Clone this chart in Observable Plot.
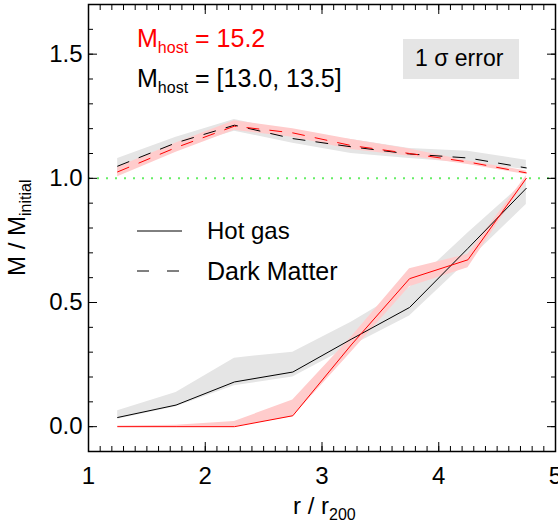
<!DOCTYPE html>
<html><head><meta charset="utf-8">
<script src="https://cdn.jsdelivr.net/npm/d3@7"></script>
<script src="https://cdn.jsdelivr.net/npm/@observablehq/plot@0.6"></script>
<style>
body{margin:0;background:#fff}
#chart svg{display:block}
</style>
</head><body><div id="chart"></div>
<script>
// Radial bins, r / r200
const radius = [1.25, 1.75, 2.25, 2.75, 3.25, 3.75, 4.25, 4.75];

// Mhost = [13.0, 13.5] (black)
const gasLow   = [0.037, 0.087, 0.180, 0.220, 0.352, 0.480, 0.718, 0.960];
const gasLowLo = [0.030, 0.080, 0.165, 0.200, 0.325, 0.446, 0.667, 0.895];
const gasLowHi = [0.064, 0.138, 0.276, 0.300, 0.420, 0.560, 0.780, 0.990];
const dmLow    = [1.049, 1.143, 1.214, 1.160, 1.127, 1.098, 1.082, 1.042];
const dmLowLo  = [1.020, 1.120, 1.190, 1.141, 1.100, 1.080, 1.062, 1.036];
const dmLowHi  = [1.080, 1.165, 1.237, 1.185, 1.156, 1.120, 1.109, 1.073];

// Mhost = 15.2 (red)
const gasHigh   = [0.000, 0.000, 0.000, 0.044, 0.329, 0.596, 0.672, 1.000];
const gasHighLo = [0.000, 0.000, 0.000, 0.040, 0.300, 0.563, 0.640, 0.990];
const gasHighHi = [0.003, 0.006, 0.021, 0.107, 0.360, 0.636, 0.694, 1.010];
const dmHigh    = [1.026, 1.124, 1.210, 1.183, 1.132, 1.100, 1.066, 1.022];
const dmHighLo  = [1.006, 1.105, 1.194, 1.165, 1.116, 1.089, 1.056, 1.015];
const dmHighHi  = [1.045, 1.142, 1.232, 1.200, 1.156, 1.118, 1.070, 1.030];

// Axis ticks
const xMajor = [1, 2, 3, 4, 5];
const xMinor = d3.range(10, 51).map(d => d / 10);
const yMajor = [0, 0.5, 1.0, 1.5];
const yMinor = d3.range(-1, 18).map(d => d / 10);
const yLabels = ["0.0", "0.5", "1.0", "1.5"];
const refLevel = [1.0];

const rows = (y, lo, hi) => radius.map((r, i) => ({r, y: y[i], lo: lo[i], hi: hi[i]}));
const gL = rows(gasLow, gasLowLo, gasLowHi);
const dL = rows(dmLow, dmLowLo, dmLowHi);
const gH = rows(gasHigh, gasHighLo, gasHighHi);
const dH = rows(dmHigh, dmHighLo, dmHighHi);

const GRAY = "#e5e5e5", PINK = "#ffcccc", RED = "#ff0000";
const FONT = "'Liberation Sans', Arial, Helvetica, sans-serif";

const tickMarks = [];
for (const anchor of ["bottom", "top"]) {
  tickMarks.push(Plot.axisX(xMinor, {anchor, tickSize: -5, tickFormat: () => "", label: null, strokeWidth: 1}));
  tickMarks.push(Plot.axisX(xMajor, {anchor, tickSize: -9, tickFormat: () => "", label: null, strokeWidth: 1}));
}
for (const anchor of ["left", "right"]) {
  tickMarks.push(Plot.axisY(yMinor, {anchor, tickSize: -5, tickFormat: () => "", label: null, strokeWidth: 1}));
  tickMarks.push(Plot.axisY(yMajor, {anchor, tickSize: -9, tickFormat: () => "", label: null, strokeWidth: 1}));
}

const plot = Plot.plot({
  width: 558, height: 520,
  marginLeft: 88, marginRight: 3, marginTop: 4, marginBottom: 69,
  x: {domain: [1, 5]},
  y: {domain: [-0.1, 1.7]},
  style: {fontFamily: FONT, fontSize: "24px", color: "#000", background: "#fff"},
  marks: [
    Plot.areaY(gL, {x: "r", y1: "lo", y2: "hi", fill: GRAY}),
    Plot.areaY(dL, {x: "r", y1: "lo", y2: "hi", fill: GRAY}),
    Plot.areaY(gH, {x: "r", y1: "lo", y2: "hi", fill: PINK}),
    Plot.areaY(dH, {x: "r", y1: "lo", y2: "hi", fill: PINK}),
    Plot.ruleY(refLevel, {stroke: "#66ee66", strokeWidth: 2, strokeDasharray: "2,7"}),
    Plot.line(gL, {x: "r", y: "y", stroke: "#000", strokeWidth: 1}),
    Plot.line(dL, {x: "r", y: "y", stroke: "#000", strokeWidth: 1, strokeDasharray: "12,11"}),
    Plot.line(gH, {x: "r", y: "y", stroke: RED, strokeWidth: 1}),
    Plot.line(dH, {x: "r", y: "y", stroke: RED, strokeWidth: 1, strokeDasharray: "12,11"}),
    Plot.frame({stroke: "#000", strokeWidth: 1.5}),
    ...tickMarks,
    Plot.axisX(xMajor, {anchor: "bottom", tickSize: 0, tickPadding: 15, tickFormat: d => String(d), label: null, fontSize: 24}),
    Plot.axisY(yMajor, {anchor: "left", tickSize: 0, tickPadding: 6, tickFormat: (d, i) => yLabels[i], label: null, fontSize: 24})
  ]
});
document.getElementById("chart").appendChild(plot);

// Annotations with subscripts
const svg = d3.select(plot);
function label(x, y, size) {
  return svg.append("text").attr("x", x).attr("y", y)
    .attr("text-anchor", "start").style("font-family", FONT).style("font-size", size + "px");
}
function subText(x, y, main, sub, rest, color, subDy, rotate, size = 24) {
  const t = svg.append("text").attr("text-anchor", "start")
    .attr("fill", color).style("font-family", FONT).style("font-size", size + "px");
  if (rotate) t.attr("transform", `translate(${x},${y}) rotate(-90)`);
  else t.attr("x", x).attr("y", y);
  t.append("tspan").text(main);
  t.append("tspan").text(sub).attr("dy", subDy).style("font-size", "16px");
  if (rest) t.append("tspan").text(rest).attr("dy", -subDy);
  return t;
}
subText(137, 47, "M", "host", " = 15.2", RED, 6, false, 25);
subText(137, 87, "M", "host", " = [13.0, 13.5]", "#000", 6, false, 25);
subText(293, 514, "r / r", "200", null, "#000", 6);
subText(25, 276, "M / M", "initial", null, "#000", 6, true);

// 1 sigma box
svg.append("rect").attr("x", 403).attr("y", 39).attr("width", 116).attr("height", 40).attr("fill", GRAY);
label(415, 66, 23).text("1 σ error");

// Legend
svg.append("line").attr("x1", 137).attr("x2", 182).attr("y1", 231).attr("y2", 231).attr("stroke", "#000").attr("stroke-width", 1);
svg.append("line").attr("x1", 137).attr("x2", 182).attr("y1", 271).attr("y2", 271).attr("stroke", "#000").attr("stroke-width", 1).attr("stroke-dasharray", "12,18");
label(207, 239, 24).text("Hot gas");
label(207, 280, 25).text("Dark Matter");
</script>
</body></html>
